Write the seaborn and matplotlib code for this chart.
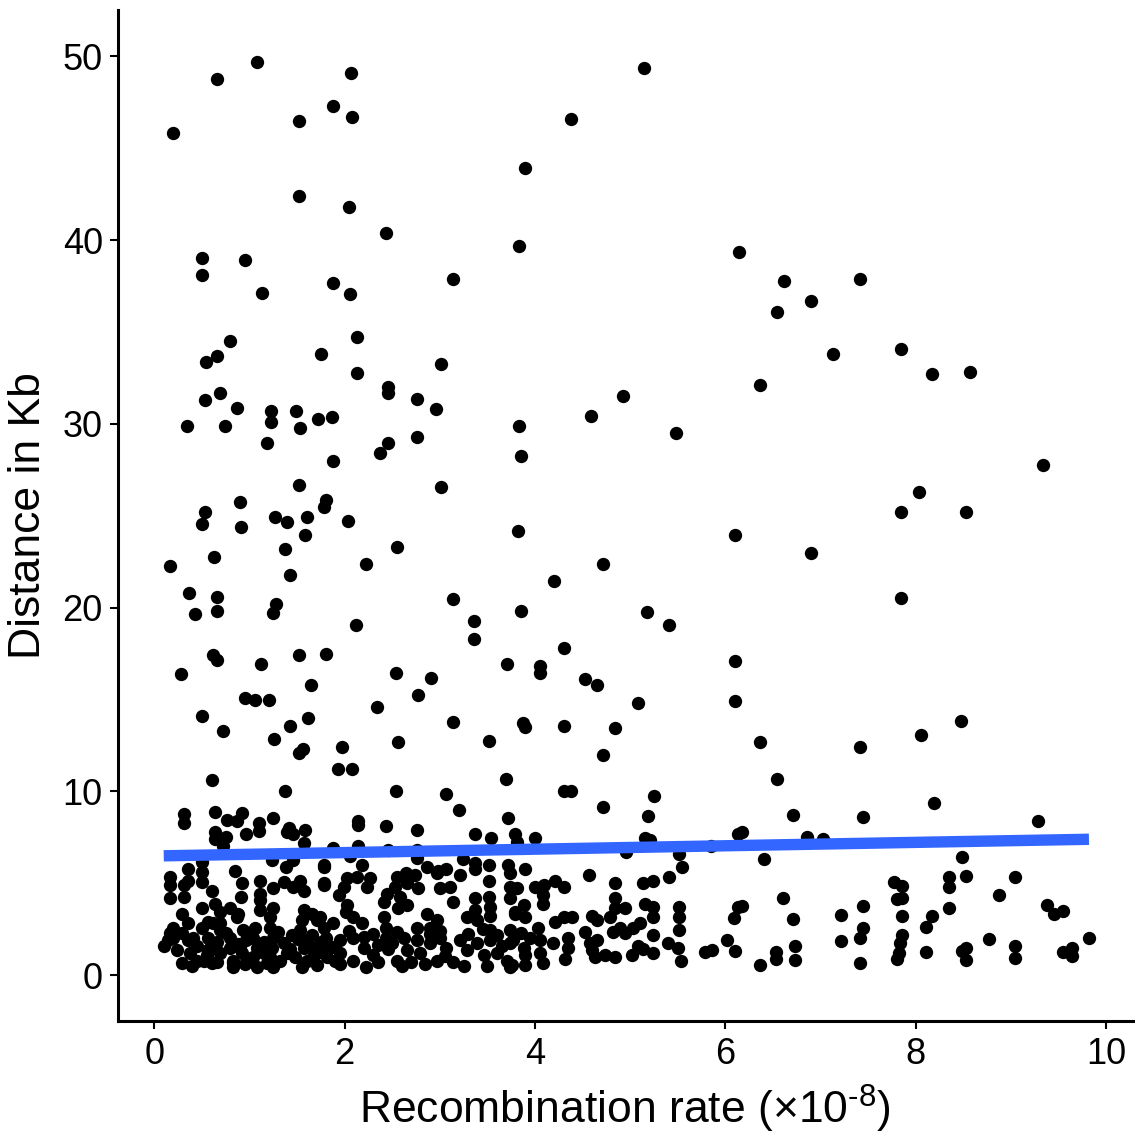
import numpy as np
import matplotlib
matplotlib.use("Agg")
import matplotlib.pyplot as plt
import seaborn as sns

sns.set_style("ticks")
plt.rcParams['font.family'] = ['Liberation Sans', 'DejaVu Sans']
plt.rcParams['mathtext.fontset'] = 'custom'
plt.rcParams['mathtext.rm'] = 'Liberation Sans'
plt.rcParams['text.color'] = 'black'
plt.rcParams['axes.labelcolor'] = 'black'

# sparse points above ~9 Kb
upper_rate = [0.20, 0.66, 1.08, 1.52, 1.88, 2.07, 2.08, 1.52, 2.05, 2.43, 4.38, 3.90, 5.15, 3.83,
              0.50, 0.95, 0.50, 1.13, 1.88, 2.06, 3.14, 0.80, 2.13, 0.66, 0.54, 1.75, 2.13, 3.01,
              0.69, 0.53, 0.87, 2.46, 2.46, 2.76, 2.96, 1.23, 1.23, 1.49, 1.53, 1.72, 1.87, 0.34,
              0.74, 1.18, 2.37, 2.46, 2.76, 3.83, 3.85, 1.88, 3.01, 1.52, 1.80, 1.78, 0.90, 0.53,
              0.50, 1.27, 1.61, 1.40, 2.04, 0.91, 1.58, 1.37, 2.55, 3.82, 0.63, 0.17, 2.23, 1.43,
              4.20, 4.72, 0.37, 0.66, 1.28, 3.14, 0.43, 0.66, 1.25, 2.12, 3.36, 3.36, 3.85, 5.18,
              5.41, 0.28, 0.62, 0.66, 1.12, 1.52, 1.81, 2.54, 2.91, 3.71, 4.05, 4.05, 4.30, 4.53,
              4.65, 1.65, 0.95, 1.06, 1.21, 2.77, 5.08, 0.50, 1.62, 1.43, 2.34, 3.14, 3.87, 3.90,
              4.30, 4.84, 0.72, 1.26, 3.52, 2.56, 1.56, 1.52, 1.97, 4.72, 1.93, 2.08, 0.61, 3.70,
              4.30, 4.38, 1.37, 2.54, 3.07, 4.71, 3.20, 5.25,
              6.14, 6.62, 7.41, 6.54, 6.90, 7.13, 7.85, 8.17, 8.57, 6.36, 9.34, 8.03, 7.85, 8.53,
              6.10, 6.90, 7.85, 4.59, 4.92, 5.48, 6.10, 6.10, 8.48, 8.06, 6.36, 7.41, 6.54, 8.19,
              6.71, 7.45, 9.29, 5.19]
upper_dist = [45.8, 48.75, 49.7, 46.5, 47.3, 49.1, 46.7, 42.4, 41.8, 40.4, 46.6, 43.9, 49.35, 39.7,
              39.0, 38.9, 38.1, 37.1, 37.65, 37.05, 37.9, 34.5, 34.7, 33.7, 33.35, 33.8, 32.75, 33.25,
              31.7, 31.3, 30.85, 32.0, 31.7, 31.35, 30.8, 30.7, 30.1, 30.7, 29.8, 30.25, 30.35, 29.9,
              29.9, 28.95, 28.4, 28.95, 29.3, 29.9, 28.25, 28.0, 26.55, 26.65, 25.85, 25.5, 25.75, 25.2,
              24.55, 24.95, 24.95, 24.65, 24.7, 24.4, 23.95, 23.2, 23.3, 24.15, 22.75, 22.25, 22.4, 21.75,
              21.45, 22.4, 20.8, 20.6, 20.2, 20.45, 19.65, 19.8, 19.7, 19.05, 19.25, 18.3, 19.8, 19.75,
              19.05, 16.4, 17.45, 17.15, 16.95, 17.4, 17.5, 16.45, 16.15, 16.95, 16.8, 16.45, 17.8, 16.1,
              15.8, 15.8, 15.1, 15.0, 15.0, 15.25, 14.8, 14.1, 14.0, 13.55, 14.6, 13.8, 13.7, 13.5,
              13.55, 13.45, 13.3, 12.85, 12.75, 12.7, 12.3, 12.1, 12.4, 12.0, 11.25, 11.2, 10.65, 10.7,
              10.0, 10.05, 10.05, 10.05, 9.85, 9.15, 9.0, 9.75,
              39.35, 37.75, 37.9, 36.1, 36.7, 33.8, 34.05, 32.7, 32.8, 32.1, 27.75, 26.3, 25.2, 25.2,
              23.95, 23.0, 20.55, 30.4, 31.5, 29.5, 17.1, 14.9, 13.85, 13.05, 12.7, 12.4, 10.7, 9.4,
              8.7, 8.6, 8.4, 8.65]

# middle band, ~3-9 Kb
mid_rate = [0.31, 0.31, 0.64, 0.76, 0.92, 0.87, 1.10, 1.10, 1.25, 0.64, 0.75, 0.64, 0.96, 1.42,
            1.39, 1.46, 1.58, 1.57, 0.72, 0.35, 0.50, 0.17, 0.17, 0.35, 0.50, 0.50, 0.85, 0.92,
            0.61, 0.17, 0.31, 0.91, 1.11, 1.24, 1.38, 1.46, 1.25, 1.36, 1.46, 1.57, 1.53, 1.78,
            1.78, 1.11, 1.11, 0.50, 0.29, 0.64, 0.69, 0.80, 0.88, 1.11, 1.25, 1.22, 1.57, 1.66,
            1.71, 1.55, 0.87, 2.14, 2.14, 2.43, 2.76, 3.37, 3.54, 3.72, 3.79, 1.88, 2.14, 2.46,
            2.76, 1.78, 2.06, 2.18, 2.76, 2.87, 2.98, 3.07, 3.21, 3.24, 3.37, 3.37, 3.52, 3.72,
            3.74, 1.78, 2.03, 2.13, 2.27, 2.24, 1.99, 1.94, 2.03, 2.55, 2.64, 2.74, 2.53, 2.66,
            2.77, 2.45, 2.58, 2.41, 2.66, 2.56, 2.97, 3.00, 3.11, 3.14, 3.37, 3.37, 3.52, 3.52,
            3.53, 3.53, 3.74, 3.74, 3.79, 1.74, 2.01, 2.09, 2.41, 2.87, 2.97, 3.29, 3.39, 4.00,
            3.81, 5.16, 5.21, 4.96, 5.51, 5.55, 5.41, 3.90, 4.57, 4.84, 5.14, 5.24, 4.00, 4.09,
            4.21, 4.30, 3.81, 4.08, 4.08, 3.88, 3.79, 3.90, 4.84, 4.84, 4.95, 5.16, 5.24, 5.24,
            5.51, 5.51, 4.60, 4.30, 4.39, 4.79, 6.18, 6.13, 6.86, 7.03, 5.85, 6.41, 7.77, 7.86,
            7.80, 7.86, 6.61, 6.18, 6.13, 6.09, 6.71, 7.21, 7.45, 7.86, 8.49, 8.35, 8.35, 8.53,
            9.04, 8.87, 8.35, 9.38, 9.45, 9.55, 8.17, 0.31]
mid_dist = [8.8, 8.3, 8.9, 8.45, 8.85, 8.4, 8.3, 7.85, 8.55, 7.8, 7.5, 7.4, 7.7, 8.0,
            7.8, 7.7, 7.9, 7.2, 7.05, 5.8, 6.15, 5.35, 4.9, 5.15, 5.6, 5.05, 5.7, 5.0,
            4.6, 4.2, 4.25, 4.25, 5.15, 6.25, 5.9, 6.25, 4.75, 5.05, 4.8, 4.6, 5.15, 5.9,
            4.9, 4.45, 4.1, 3.65, 3.35, 3.9, 3.45, 3.65, 3.35, 3.55, 3.65, 3.15, 3.55, 3.35,
            3.0, 3.0, 3.15, 8.4, 8.15, 8.1, 7.9, 7.7, 7.45, 8.55, 7.7, 6.9, 7.05, 6.8,
            6.8, 6.0, 6.5, 6.0, 6.4, 5.9, 5.7, 5.8, 5.45, 6.35, 6.1, 5.8, 6.0, 6.0,
            5.55, 5.0, 5.3, 5.35, 5.3, 4.8, 4.8, 4.35, 3.8, 5.35, 5.55, 5.45, 4.8, 5.0,
            4.75, 4.45, 4.25, 4.0, 3.8, 3.65, 5.55, 4.75, 4.8, 4.0, 4.2, 3.55, 5.15, 4.25,
            3.7, 3.25, 4.8, 4.2, 3.45, 3.15, 3.45, 3.15, 3.15, 3.35, 3.0, 3.15, 3.0, 7.45,
            7.25, 7.45, 7.35, 6.7, 6.6, 5.9, 5.35, 5.8, 5.45, 5.0, 5.0, 5.15, 4.8, 4.9,
            5.15, 4.8, 4.75, 4.35, 3.9, 3.8, 3.35, 3.15, 4.2, 3.65, 3.65, 3.9, 3.7, 3.15,
            3.7, 3.15, 3.25, 3.15, 3.15, 3.15, 7.8, 7.7, 7.55, 7.4, 7.05, 6.35, 5.1, 4.85,
            4.15, 4.2, 4.2, 3.75, 3.7, 3.1, 3.05, 3.3, 3.75, 3.2, 6.45, 5.35, 4.8, 5.4,
            5.35, 4.35, 3.65, 3.8, 3.35, 3.5, 3.25, 4.9]

# dense band near the axis, below ~3 Kb
low_rate = [0.20, 0.29, 0.36, 0.10, 0.24, 0.38, 0.29, 0.52, 0.50, 0.57, 0.62, 0.69, 0.59, 0.69,
            0.66, 0.80, 0.80, 0.83, 0.93, 0.96, 0.92, 0.83, 1.06, 1.04, 1.08, 1.04, 1.08, 1.22,
            1.25, 1.24, 1.22, 1.25, 1.36, 1.40, 1.43, 1.53, 1.51, 1.57, 1.55, 1.66, 1.67, 1.67,
            1.71, 1.80, 1.82, 1.82, 1.78, 0.20, 1.88, 2.18, 2.43, 2.76, 2.90, 3.53, 1.95, 2.09,
            2.20, 2.22, 1.95, 2.09, 2.35, 2.43, 2.46, 2.62, 2.66, 2.55, 2.76, 2.79, 2.90, 3.00,
            3.07, 2.97, 3.14, 3.21, 3.29, 3.39, 3.46, 3.53, 3.60, 3.71, 3.76, 3.77, 4.21, 4.03,
            3.74, 4.53, 4.89, 4.82, 4.95, 5.24, 5.10, 5.03, 4.65, 3.74, 3.88, 4.05, 4.05, 4.19,
            4.35, 4.35, 4.32, 4.58, 4.60, 4.65, 4.63, 4.74, 4.84, 5.02, 5.08, 5.14, 5.24, 5.40,
            5.50, 5.53, 5.79, 3.90, 3.74, 4.08, 5.51, 7.45, 7.42, 7.86, 7.84, 7.82, 7.80, 6.02,
            6.10, 5.86, 7.21, 6.73, 6.73, 6.53, 6.53, 6.36, 7.42, 8.11, 8.77, 9.82, 8.11, 8.53,
            8.49, 8.53, 9.04, 9.04, 9.55, 9.64, 9.64,
            0.35, 0.56, 0.69, 0.17, 0.41, 0.45, 0.56, 0.66, 0.83, 0.90, 0.98, 0.61,
            1.95, 2.05, 2.30, 2.35, 2.30, 2.55, 2.60, 2.70, 2.85, 2.90, 3.05, 3.00, 3.25, 3.30,
            3.45, 3.50, 3.60, 3.65, 3.85, 3.90, 3.95, 2.20, 2.50,
            0.45, 0.75, 0.88, 1.00, 1.15, 1.15, 1.30, 1.32, 1.45, 1.48, 1.60, 1.60, 1.75, 1.75,
            1.88, 1.90, 0.15, 0.40, 0.55, 0.95, 1.18]
low_dist = [2.05, 2.3, 1.9, 1.6, 1.35, 1.2, 0.65, 0.8, 2.55, 2.05, 2.85, 2.45, 1.5, 1.2,
            0.7, 2.05, 1.5, 0.8, 2.45, 1.9, 1.2, 0.45, 2.6, 2.05, 1.5, 1.0, 0.45, 2.6,
            2.05, 1.5, 1.0, 0.45, 1.75, 1.2, 1.45, 2.45, 2.0, 1.5, 0.45, 2.2, 1.5, 1.0,
            0.55, 2.05, 1.5, 1.0, 2.6, 2.6, 2.85, 2.85, 2.6, 2.6, 2.6, 2.45, 1.9, 2.05,
            1.5, 0.45, 1.2, 0.8, 0.7, 2.05, 1.45, 2.05, 1.35, 0.8, 1.9, 1.2, 1.75, 2.05,
            1.5, 0.8, 0.7, 1.9, 1.35, 1.75, 1.1, 1.9, 1.2, 0.8, 0.55, 1.9, 2.9, 2.6,
            2.45, 2.35, 2.6, 2.35, 2.3, 2.2, 2.85, 2.6, 3.0, 1.75, 1.5, 1.9, 1.2, 1.75,
            2.05, 1.5, 0.9, 1.75, 1.35, 1.9, 1.0, 1.1, 1.0, 1.1, 1.6, 1.45, 1.2, 1.75,
            1.5, 0.8, 1.25, 0.55, 0.45, 0.65, 2.45, 2.6, 2.05, 2.2, 1.75, 1.2, 0.9, 1.9,
            1.3, 1.4, 1.85, 1.6, 0.85, 1.25, 0.9, 0.55, 0.65, 2.65, 1.95, 2.05, 1.25, 1.5,
            1.3, 0.85, 1.6, 0.95, 1.25, 1.5, 1.05,
            2.85, 2.9, 2.85, 2.3, 2.05, 0.8, 1.35, 1.8, 0.65, 1.5, 2.3, 0.65,
            0.6, 2.4, 2.25, 1.65, 1.1, 2.35, 0.5, 0.75, 0.6, 2.25, 1.05, 2.4, 0.5, 2.25,
            2.5, 0.5, 2.2, 1.6, 2.3, 1.1, 2.05, 2.1, 1.75,
            1.6, 2.3, 1.7, 2.3, 1.8, 1.2, 2.35, 0.8, 2.2, 1.0, 1.9, 0.8, 1.25, 1.8,
            1.55, 0.8, 1.9, 0.5, 1.1, 0.6, 0.65]

# fitted trend line
fit_rate = [0.10, 9.82]
fit_dist = [6.5, 7.4]

rate = np.array(upper_rate + mid_rate + low_rate)
dist = np.array(upper_dist + mid_dist + low_dist)

fig = plt.figure(figsize=(11.35, 11.36), dpi=100)
ax = fig.add_axes([0.104, 0.101, 0.894, 0.890])

sns.scatterplot(x=rate, y=dist, color='black', s=92, linewidth=0, ax=ax, zorder=2)
sns.lineplot(x=fit_rate, y=fit_dist, color='#3366FF', linewidth=8.2, ax=ax, zorder=3,
             solid_capstyle='butt')

ax.set_xlim(-0.38, 10.28)
ax.set_ylim(-2.5, 52.5)
ax.set_xticks([0, 2, 4, 6, 8, 10])
ax.set_yticks([0, 10, 20, 30, 40, 50])
ax.tick_params(labelsize=26, length=6, width=1.5, colors='black', pad=5)
ax.set_xlabel(r'Recombination rate (×10$^{\text{-8}}$)', fontsize=32, labelpad=8)
ax.set_ylabel('Distance in Kb', fontsize=32, labelpad=10)

sns.despine(ax=ax)
for side in ['left', 'bottom']:
    ax.spines[side].set_linewidth(2.2)
    ax.spines[side].set_color('black')

fig.savefig('out.png', dpi=100)
